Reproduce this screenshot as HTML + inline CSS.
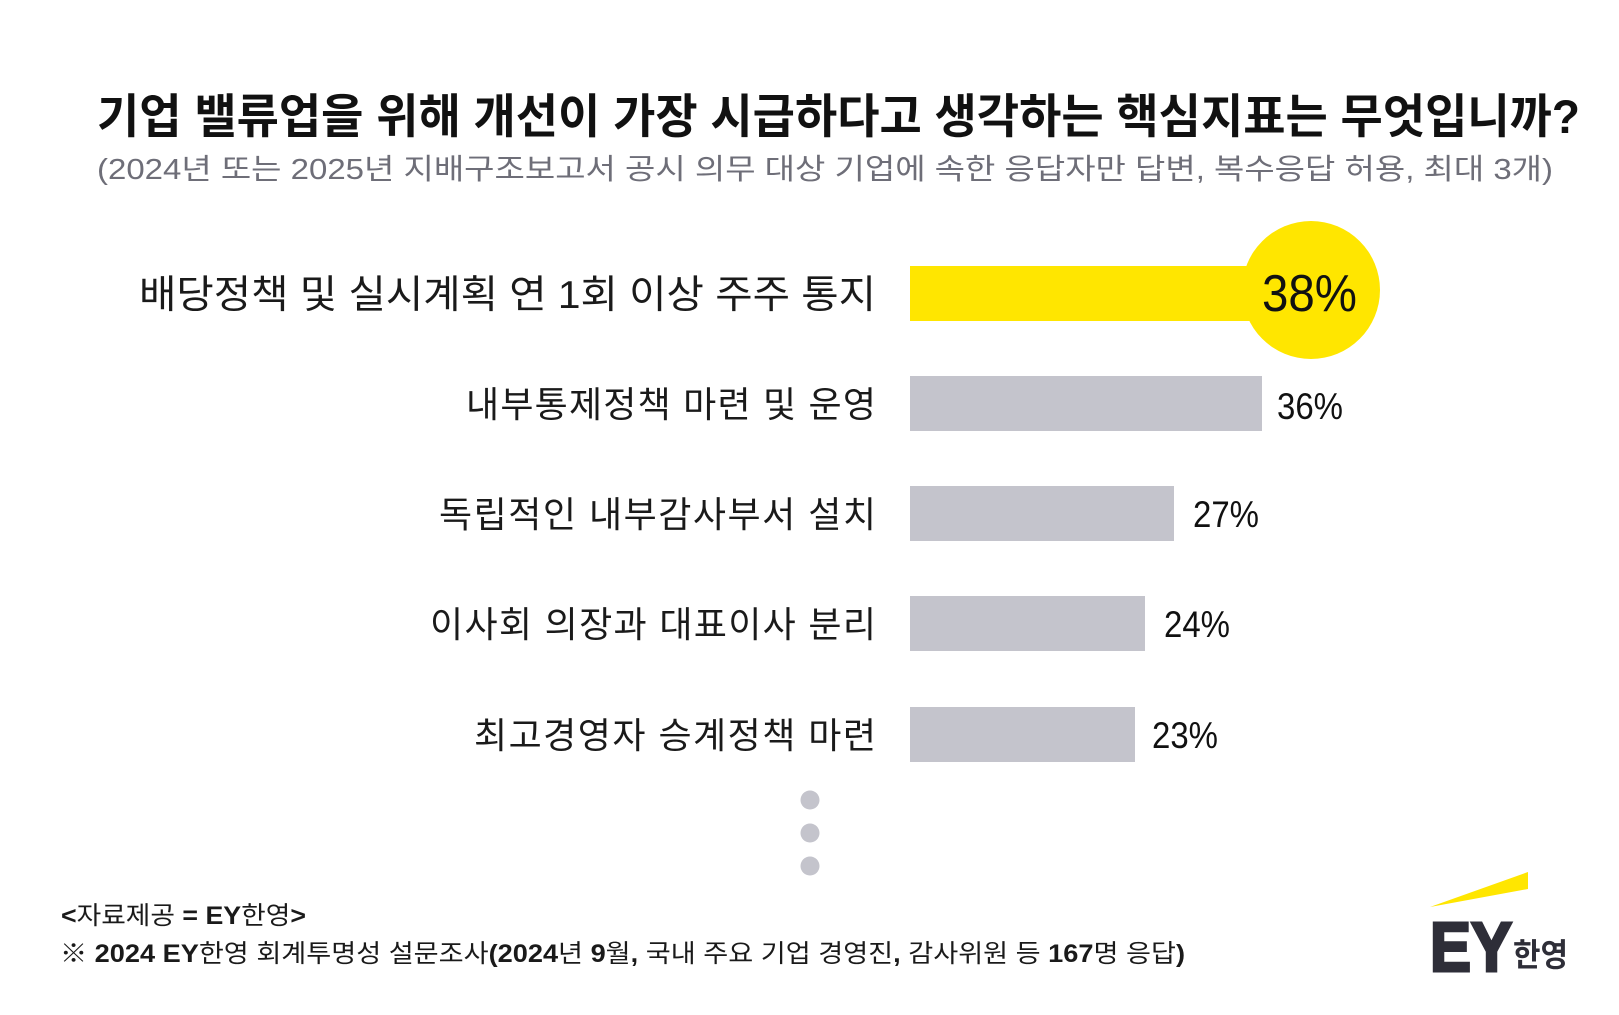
<!DOCTYPE html>
<html>
<head>
<meta charset="utf-8">
<style>
  html, body { margin: 0; padding: 0; background: #ffffff; }
  body { width: 1619px; height: 1015px; overflow: hidden; }
  svg { display: block; }
  .kr { font-family: "Liberation Sans", "Noto Sans CJK KR", "NanumGothic", sans-serif; }
</style>
</head>
<body>
<svg width="1619" height="1015" viewBox="0 0 1619 1015" xmlns="http://www.w3.org/2000/svg">
  <rect x="0" y="0" width="1619" height="1015" fill="#ffffff"/>

  <!-- Title -->
  <text class="kr" x="97" y="133" font-size="47" font-weight="700" fill="#111111"
        textLength="1483" lengthAdjust="spacingAndGlyphs">기업 밸류업을 위해 개선이 가장 시급하다고 생각하는 핵심지표는 무엇입니까?</text>

  <!-- Subtitle -->
  <text class="kr" x="97" y="179" font-size="29" font-weight="400" fill="#6e6e78"
        textLength="1456" lengthAdjust="spacingAndGlyphs">(2024년 또는 2025년 지배구조보고서 공시 의무 대상 기업에 속한 응답자만 답변, 복수응답 허용, 최대 3개)</text>

  <!-- Category labels -->
  <g class="kr" font-weight="400" fill="#1a1a1a" text-anchor="end">
    <text x="876" y="308" font-size="39" textLength="737" lengthAdjust="spacingAndGlyphs">배당정책 및 실시계획 연 1회 이상 주주 통지</text>
    <text x="876" y="417" font-size="36" textLength="410" lengthAdjust="spacing">내부통제정책 마련 및 운영</text>
    <text x="876" y="527" font-size="36" textLength="437" lengthAdjust="spacing">독립적인 내부감사부서 설치</text>
    <text x="876" y="637" font-size="36" textLength="446" lengthAdjust="spacing">이사회 의장과 대표이사 분리</text>
    <text x="876" y="748" font-size="36" textLength="402" lengthAdjust="spacing">최고경영자 승계정책 마련</text>
  </g>

  <!-- Bars -->
  <rect x="910" y="266" width="372" height="55" fill="#ffe600"/>
  <circle cx="1311" cy="290" r="69" fill="#ffe600"/>
  <rect x="910" y="376" width="352" height="55" fill="#c4c4cc"/>
  <rect x="910" y="486" width="264" height="55" fill="#c4c4cc"/>
  <rect x="910" y="596" width="235" height="55" fill="#c4c4cc"/>
  <rect x="910" y="707" width="225" height="55" fill="#c4c4cc"/>

  <!-- Values -->
  <g font-family="'Liberation Sans', sans-serif" fill="#111111">
    <text x="1262" y="311" font-size="52" textLength="95" lengthAdjust="spacingAndGlyphs">38%</text>
    <text x="1277" y="419" font-size="37" textLength="66" lengthAdjust="spacingAndGlyphs">36%</text>
    <text x="1193" y="527" font-size="37" textLength="66" lengthAdjust="spacingAndGlyphs">27%</text>
    <text x="1164" y="637" font-size="37" textLength="66" lengthAdjust="spacingAndGlyphs">24%</text>
    <text x="1152" y="748" font-size="37" textLength="66" lengthAdjust="spacingAndGlyphs">23%</text>
  </g>

  <!-- Ellipsis dots -->
  <circle cx="810" cy="800" r="9.5" fill="#c4c4cc"/>
  <circle cx="810" cy="833" r="9.5" fill="#c4c4cc"/>
  <circle cx="810" cy="866" r="9.5" fill="#c4c4cc"/>

  <!-- Footer -->
  <text class="kr" x="61" y="924" font-size="25" fill="#1a1a1a" textLength="245" lengthAdjust="spacingAndGlyphs"><tspan font-weight="700">&lt;</tspan>자료제공 <tspan font-weight="700">= EY</tspan>한영<tspan font-weight="700">&gt;</tspan></text>
  <text class="kr" x="60" y="962" font-size="25" fill="#1a1a1a" textLength="1125" lengthAdjust="spacingAndGlyphs">※ <tspan font-weight="700">2024 EY</tspan>한영 회계투명성 설문조사<tspan font-weight="700">(2024</tspan>년 <tspan font-weight="700">9</tspan>월<tspan font-weight="700">,</tspan> 국내 주요 기업 경영진<tspan font-weight="700">,</tspan> 감사위원 등 <tspan font-weight="700">167</tspan>명 응답<tspan font-weight="700">)</tspan></text>

  <!-- EY logo -->
  <polygon points="1430,907 1528,872 1528,889" fill="#ffe600"/>
  <text x="1430" y="971" font-family="'Liberation Sans', sans-serif" font-size="70" font-weight="700"
        fill="#2e2e38" stroke="#2e2e38" stroke-width="3" textLength="82" lengthAdjust="spacingAndGlyphs">EY</text>
  <text class="kr" x="1513" y="966" font-size="32" font-weight="700" fill="#2e2e38"
        textLength="55" lengthAdjust="spacingAndGlyphs">한영</text>
</svg>
</body>
</html>
